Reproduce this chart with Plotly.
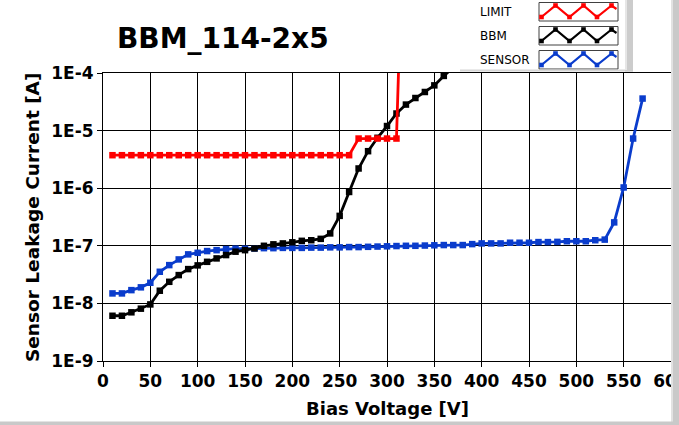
import plotly.graph_objects as go

# ---------------- data ----------------
limit_v = [10, 20, 30, 40, 50, 60, 70, 80, 90, 100, 110, 120, 130, 140, 150, 160, 170, 180, 190, 200,
           210, 220, 230, 240, 250, 260, 270, 280, 290, 300, 310, 314]
limit_i = [3.74e-6] * 26 + [7.28e-6] * 5 + [1e-3]

bbm_v = [10, 20, 30, 40, 50, 60, 70, 80, 90, 100, 110, 120, 130, 140, 150, 160, 170, 180, 190, 200,
         210, 220, 230, 240, 250, 260, 270, 280, 290, 300, 310, 320, 330, 340, 350, 360, 370]
bbm_i = [6.1e-9, 6.1e-9, 7.0e-9, 8.1e-9, 9.6e-9, 1.66e-8, 2.37e-8, 3.1e-8, 3.94e-8, 4.57e-8,
         5.27e-8, 6.04e-8, 6.9e-8, 7.9e-8, 8.4e-8, 9.0e-8, 1.0e-7, 1.06e-7, 1.1e-7, 1.15e-7,
         1.22e-7, 1.25e-7, 1.32e-7, 1.64e-7, 3.31e-7, 8.6e-7, 2.2e-6, 4.39e-6, 7.5e-6, 1.2e-5,
         1.98e-5, 2.83e-5, 3.68e-5, 4.68e-5, 6.1e-5, 8.9e-5, 1.25e-4]

sensor_v = [10, 20, 30, 40, 50, 60, 70, 80, 90, 100, 110, 120, 130, 140, 150, 160, 170, 180, 190, 200,
            210, 220, 230, 240, 250, 260, 270, 280, 290, 300, 310, 320, 330, 340, 350, 360, 370, 380,
            390, 400, 410, 420, 430, 440, 450, 460, 470, 480, 490, 500, 510, 520, 530, 540, 550, 560, 570]
sensor_i = [1.49e-8, 1.49e-8, 1.70e-8, 1.90e-8, 2.28e-8, 3.54e-8, 4.62e-8, 5.8e-8, 7.1e-8, 7.56e-8,
            8.1e-8, 8.4e-8, 8.75e-8, 8.9e-8, 8.9e-8, 9.0e-8, 9.1e-8, 9.1e-8, 9.2e-8, 9.2e-8,
            9.2e-8, 9.3e-8, 9.3e-8, 9.4e-8, 9.4e-8, 9.5e-8, 9.5e-8, 9.6e-8, 9.7e-8, 9.8e-8,
            9.9e-8, 1.0e-7, 1.0e-7, 1.01e-7, 1.02e-7, 1.03e-7, 1.03e-7, 1.03e-7, 1.07e-7, 1.1e-7,
            1.1e-7, 1.1e-7, 1.13e-7, 1.13e-7, 1.13e-7, 1.16e-7, 1.16e-7, 1.17e-7, 1.2e-7, 1.2e-7,
            1.2e-7, 1.25e-7, 1.28e-7, 2.55e-7, 1.03e-6, 7.28e-6, 3.6e-5]

x_ticks = [0, 50, 100, 150, 200, 250, 300, 350, 400, 450, 500, 550, 600]
y_ticks = [1e-9, 1e-8, 1e-7, 1e-6, 1e-5, 1e-4]
y_ticktext = ["1E-9", "1E-8", "1E-7", "1E-6", "1E-5", "1E-4"]

series_names = ["LIMIT", "BBM", "SENSOR"]
series_colors = ["#ff0000", "#000000", "#0a3ccc"]

title_text = "BBM_114-2x5"
x_title = "Bias Voltage [V]"
y_title = "Sensor Leakage Current [A]"

# ---------------- layout geometry ----------------
W, H = 679, 425
L, R, T, B = 103, 8, 73, 64
PW, PH = W - L - R, H - T - B


def px(x):
    return (x - L) / PW


def py(y):
    return (H - B - y) / PH


FONT = "DejaVu Sans"

fig = go.Figure()
for v, i, name, col in [(sensor_v, sensor_i, "SENSOR", series_colors[2]),
                        (bbm_v, bbm_i, "BBM", series_colors[1]),
                        (limit_v, limit_i, "LIMIT", series_colors[0])]:
    fig.add_trace(go.Scatter(x=v, y=i, mode="lines+markers", name=name,
                             line=dict(color=col, width=2.8),
                             marker=dict(symbol="square", size=6.5, color=col),
                             showlegend=False))

shapes = []
annotations = []

# title
annotations.append(dict(text=f"<b>{title_text}</b>", xref="paper", yref="paper",
                         x=px(115), y=py(38), xanchor="left", yanchor="middle",
                         showarrow=False, font=dict(family=FONT, size=28, color="#000")))
# axis titles
annotations.append(dict(text=f"<b>{x_title}</b>", xref="paper", yref="paper",
                        x=0.5, y=py(408), xanchor="center", yanchor="middle",
                        showarrow=False, font=dict(family=FONT, size=18, color="#000")))
annotations.append(dict(text=f"<b>{y_title}</b>", xref="paper", yref="paper",
                        x=px(32), y=py(218), xanchor="center", yanchor="middle", textangle=-90,
                        showarrow=False, font=dict(family=FONT, size=18.5, color="#000")))

# custom legend
for k, (name, col) in enumerate(zip(series_names, series_colors)):
    yc = 12 + 24 * k
    annotations.append(dict(text=name, xref="paper", yref="paper",
                            x=px(478), y=py(yc), xanchor="left", yanchor="middle",
                            showarrow=False, font=dict(family=FONT, size=12, color="#000")))
    shapes.append(dict(type="rect", xref="paper", yref="paper",
                       x0=px(539), x1=px(618), y0=py(yc - 9.5), y1=py(yc + 9),
                       line=dict(color="#404040", width=1), fillcolor="white", layer="above"))
    xs = [541.5, 555.5, 569.5, 583.5, 597, 611.5, 616.5]
    ys = [yc + 5, yc - 6.5, yc + 5, yc - 6.5, yc + 5, yc - 6.5, yc - 3]
    path = "M " + " L ".join(f"{px(a)},{py(b)}" for a, b in zip(xs, ys))
    shapes.append(dict(type="path", xref="paper", yref="paper", path=path,
                       line=dict(color=col, width=2.2), layer="above"))
    for a, b in zip(xs[:-1], ys[:-1]):
        shapes.append(dict(type="rect", xref="paper", yref="paper",
                           x0=px(a - 2.3), x1=px(a + 2.3), y0=py(b - 2.3), y1=py(b + 2.3),
                           line=dict(width=0), fillcolor=col, layer="above"))

# legend panel borders
shapes.append(dict(type="rect", xref="paper", yref="paper",
                   x0=px(460), x1=px(633), y0=py(71.5), y1=py(69.5),
                   line=dict(width=0), fillcolor="#d6d6d6", layer="above"))
shapes.append(dict(type="rect", xref="paper", yref="paper",
                   x0=px(625), x1=px(633), y0=py(71.5), y1=py(0),
                   line=dict(width=0), fillcolor="#cccccc", layer="above"))
shapes.append(dict(type="rect", xref="paper", yref="paper",
                   x0=px(625), x1=px(627), y0=py(70), y1=py(0),
                   line=dict(width=0), fillcolor="#e6e6e6", layer="above"))
# window frame right / bottom
shapes.append(dict(type="rect", xref="paper", yref="paper",
                   x0=px(671), x1=px(680), y0=py(426), y1=py(-1),
                   line=dict(width=0), fillcolor="#c9c9c9", layer="above"))
shapes.append(dict(type="rect", xref="paper", yref="paper",
                   x0=px(671), x1=px(673), y0=py(426), y1=py(-1),
                   line=dict(width=0), fillcolor="#e2e2e2", layer="above"))
shapes.append(dict(type="rect", xref="paper", yref="paper",
                   x0=px(-1), x1=px(680), y0=py(426), y1=py(421.5),
                   line=dict(width=0), fillcolor="#c9c9c9", layer="above"))

fig.update_layout(
    width=W, height=H, autosize=False,
    margin=dict(l=L, r=R, t=T, b=B, pad=0, autoexpand=False),
    paper_bgcolor="white", plot_bgcolor="white",
    font=dict(family=FONT, color="#000"),
    shapes=shapes, annotations=annotations,
    xaxis=dict(range=[0, 600], tickvals=x_ticks, ticks="outside", ticklen=5, tickcolor="#000",
               showgrid=True, gridcolor="#000", gridwidth=1, zeroline=False,
               showline=True, linecolor="#000", linewidth=1, mirror=True,
               ticklabeloverflow="allow", automargin=False,
               tickfont=dict(family=FONT, size=17, color="#000", weight="bold")),
    yaxis=dict(type="log", range=[-9, -4], tickvals=y_ticks, ticktext=y_ticktext,
               ticks="outside", ticklen=5, tickcolor="#000",
               showgrid=True, gridcolor="#000", gridwidth=1, zeroline=False,
               showline=True, linecolor="#000", linewidth=1, mirror=True,
               ticklabeloverflow="allow", automargin=False,
               tickfont=dict(family=FONT, size=17, color="#000", weight="bold")),
)

fig.write_html("out.html", config={"displayModeBar": False},
               post_script="document.body.style.margin='0';document.body.style.overflow='hidden';")
